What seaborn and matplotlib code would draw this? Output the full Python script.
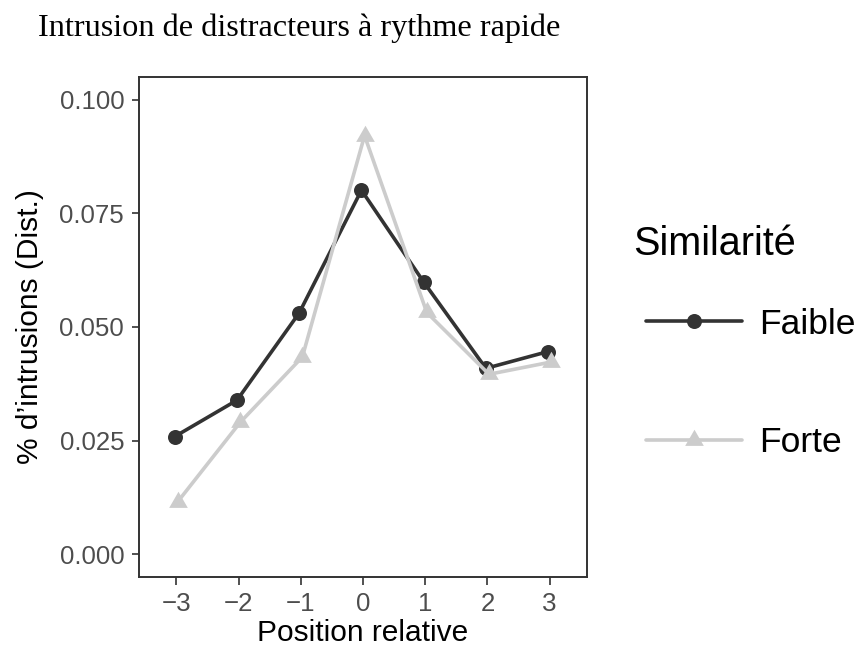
import matplotlib
matplotlib.use("Agg")
import matplotlib.pyplot as plt
import seaborn as sns
import pandas as pd

positions = ["\u22123", "\u22122", "\u22121", "0", "1", "2", "3"]
faible = [0.0259, 0.0339, 0.0531, 0.0801, 0.0599, 0.0409, 0.0446]
forte = [0.0116, 0.0290, 0.0434, 0.0921, 0.0532, 0.0396, 0.0423]
groups = ["Faible", "Forte"]
colors = ["#333333", "#CCCCCC"]
yticks = [0.0, 0.025, 0.05, 0.075, 0.1]
ytick_labels = ["0.000", "0.025", "0.050", "0.075", "0.100"]

df = pd.DataFrame({
    "Position": positions * 2,
    "val": faible + forte,
    "Similarité": ["Faible"] * len(positions) + ["Forte"] * len(positions),
})

sns.set_theme(style="white")
plt.rcParams["font.family"] = ["Liberation Sans", "DejaVu Sans"]
plt.rcParams["text.color"] = "black"

tri = [(0, 1), (-0.866, -0.5), (0.866, -0.5)]

fig = plt.figure(figsize=(8.59, 6.54), dpi=100)
ax = fig.add_axes([139 / 859, 1 - 577 / 654, (587 - 139) / 859, (577 - 77) / 654])

sns.pointplot(data=df, x="Position", y="val", hue="Similarité", order=positions,
              hue_order=groups, palette=colors, markers=["o", tri],
              linestyles=["-", "-"], dodge=0.05, errorbar=None, ax=ax,
              linewidth=2.6, markersize=10.8)

for ln in ax.lines:
    ln.set_markeredgewidth(0)
    if matplotlib.colors.to_hex(ln.get_color()).lower() == "#cccccc":
        ln.set_markersize(15.5)

ax.set_xlim(-0.6, 6.6)
ax.set_ylim(-0.005, 0.105)
ax.set_yticks(yticks)
ax.set_yticklabels(ytick_labels)
ax.set_xlabel("Position relative", fontsize=21.5, color="black", labelpad=2)
ax.set_ylabel("% d\u2019intrusions (Dist.)", fontsize=21.5, color="black", labelpad=11)
ax.tick_params(axis="both", which="both", length=5.4, width=1.2, color="#333333",
               labelsize=18.6, labelcolor="#4D4D4D", pad=5.3, left=True, bottom=True)
for s in ax.spines.values():
    s.set_visible(True)
    s.set_color("#333333")
    s.set_linewidth(1.4)
ax.grid(False)

handles, labels = ax.get_legend_handles_labels()
for h in handles:
    h.set_markeredgewidth(0)
    if matplotlib.colors.to_hex(h.get_color()).lower() == "#cccccc":
        h.set_markersize(15.5)
ax.get_legend().remove()
fig.legend(handles, labels, loc="center left",
           bbox_to_anchor=(646 / 859, 1 - 383.5 / 654), frameon=False,
           fontsize=25.5, handlelength=2.7, handletextpad=0.5,
           labelspacing=2.42, borderpad=0, borderaxespad=0)
fig.text(633 / 859, 1 - 255 / 654, "Similarité", fontsize=28.5, va="baseline",
         ha="left", color="black")

fig.text(38 / 859, 1 - 28 / 654, "Intrusion de distracteurs à rythme rapide",
         fontsize=23.2, va="center", ha="left", family=["Liberation Serif"],
         color="black")

fig.savefig("out.png", dpi=100)
